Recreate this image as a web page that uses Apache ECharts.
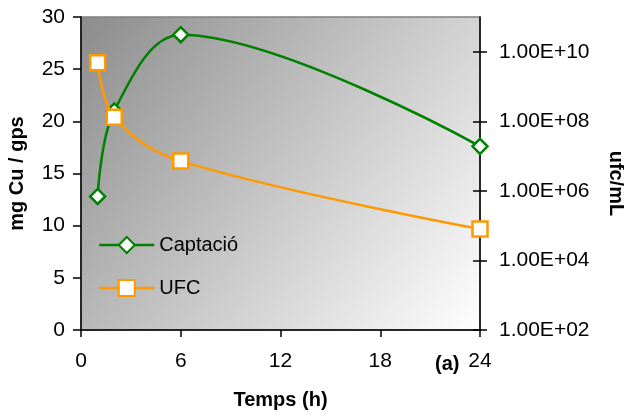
<!DOCTYPE html>
<html>
<head>
<meta charset="utf-8">
<script src="https://cdn.jsdelivr.net/npm/echarts@6/dist/echarts.min.js"></script>
<style>
  html, body { margin: 0; padding: 0; background: #fff; }
  #chart { width: 624px; height: 419px; }
</style>
</head>
<body>
<div id="chart"></div>
<script>
// time points (h)
const hours = [1, 2, 6, 24]
// copper uptake, mg Cu / gps (left axis)
const captacio = [12.8, 21.0, 28.3, 17.6]
// colony counts, ufc/mL (right, log axis)
const ufc = [4.8e9, 1.3e8, 7.2e6, 8.0e4]
// right axis labelled powers
const logTicks = [1e2, 1e4, 1e6, 1e8, 1e10]

const font = 'Liberation Sans, Arial, sans-serif'

// Excel style scientific label: 1.00E+04
function sci(v) {
  const e = Math.round(Math.log10(v))
  const m = v / Math.pow(10, e)
  return m.toFixed(2) + 'E+' + String(e).padStart(2, '0')
}

const chart = echarts.init(document.getElementById('chart'), null, { renderer: 'canvas' })

const option = {
  animation: false,
  textStyle: { fontFamily: font },
  grid: {
    left: 81, top: 17, right: 144, bottom: 89,
    outerBoundsMode: 'none',
    containLabel: false,
    show: true,
    borderWidth: 1.5,
    borderColor: '#808080',
    backgroundColor: new echarts.graphic.LinearGradient(0, 0, 1, 1, [
      { offset: 0, color: '#8c8c8c' },
      { offset: 1, color: '#ffffff' }
    ])
  },
  legend: {
    orient: 'vertical',
    left: 98, top: 235,
    padding: 0,
    itemWidth: 55, itemHeight: 20,
    itemGap: 23,
    lineStyle: { width: 2.5 },
    textStyle: { fontSize: 20, color: '#000', fontFamily: font },
    data: ['Captació', 'UFC']
  },
  xAxis: {
    type: 'value',
    min: 0, max: 24, interval: 6,
    name: 'Temps (h)',
    nameLocation: 'middle',
    nameGap: 60,
    nameTextStyle: { fontSize: 20, fontWeight: 'bold', color: '#000' },
    axisLine: { lineStyle: { color: '#000', width: 1.5 } },
    axisTick: { show: true, length: 7, lineStyle: { color: '#000', width: 1.5 } },
    axisLabel: { fontSize: 21, color: '#000', margin: 21 },
    splitLine: { show: false }
  },
  yAxis: [
    {
      type: 'value',
      position: 'left',
      min: 0, max: 30, interval: 5,
      name: 'mg Cu / gps',
      nameLocation: 'middle',
      nameGap: 54,
      nameRotate: 90,
      nameTextStyle: { fontSize: 20, fontWeight: 'bold', color: '#000' },
      axisLine: { show: true, lineStyle: { color: '#000', width: 1.5 } },
      axisTick: { show: true, length: 8, lineStyle: { color: '#000', width: 1.5 } },
      axisLabel: { fontSize: 21, color: '#000', margin: 16 },
      splitLine: { show: false }
    },
    {
      type: 'log',
      position: 'right',
      min: 1e2, max: 1e11,
      name: 'ufc/mL',
      nameLocation: 'middle',
      nameGap: 126,
      nameRotate: -90,
      nameTextStyle: { fontSize: 20, fontWeight: 'bold', color: '#000', padding: [0, 0, 0, 20] },
      axisLine: { show: true, lineStyle: { color: '#000', width: 1.5 } },
      axisTick: { show: true, length: 7, customValues: logTicks, lineStyle: { color: '#000', width: 1.5 } },
      axisLabel: { fontSize: 21, color: '#000', margin: 19, customValues: logTicks, formatter: sci },
      splitLine: { show: false }
    },
    {
      // inner half of the crossing ticks on the right axis
      type: 'log',
      position: 'right',
      min: 1e2, max: 1e11,
      axisLine: { show: false },
      axisTick: { show: true, inside: true, length: 7, customValues: logTicks, lineStyle: { color: '#000', width: 1.5 } },
      axisLabel: { show: false },
      splitLine: { show: false }
    }
  ],
  series: [
    {
      name: 'Captació',
      type: 'line',
      yAxisIndex: 0,
      data: hours.map((h, i) => [h, captacio[i]]),
      smooth: 0.35,
      symbol: 'diamond',
      symbolSize: 15,
      lineStyle: { color: '#008000', width: 2.5 },
      itemStyle: { color: '#ffffff', borderColor: '#008000', borderWidth: 2.5 },
      z: 3
    },
    {
      name: 'UFC',
      type: 'line',
      yAxisIndex: 1,
      data: hours.map((h, i) => [h, ufc[i]]),
      smooth: 0.35,
      symbol: 'rect',
      symbolSize: 15,
      lineStyle: { color: '#ff9900', width: 2.5 },
      itemStyle: { color: '#ffffff', borderColor: '#ff9900', borderWidth: 2.5 },
      z: 4
    }
  ],
  graphic: [
    {
      type: 'text',
      left: 435, top: 354,
      style: { text: '(a)', font: 'bold 20px ' + font, fill: '#000' }
    }
  ]
}

chart.setOption(option)
</script>
</body>
</html>
